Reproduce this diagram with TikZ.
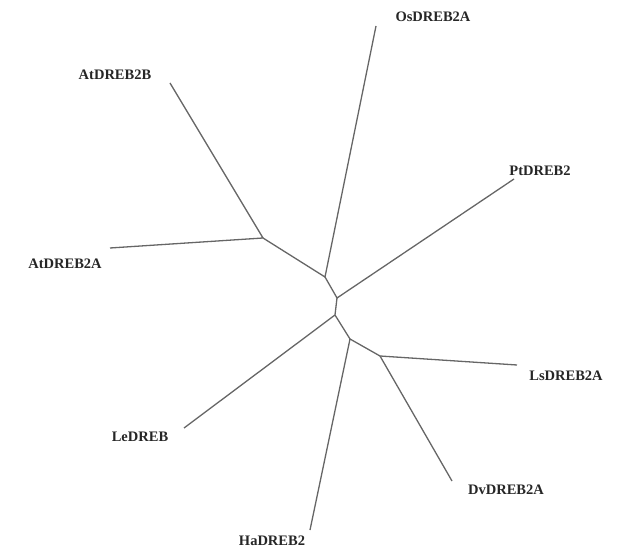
\documentclass[tikz,border=0pt]{standalone}
\usepackage{fontspec}
\setmainfont{Liberation Serif}
\begin{document}
\begin{tikzpicture}[x=1pt,y=-1pt,
  branch/.style={draw=black!60, line width=1.3pt},
  leaf/.style={font=\fontsize{14.5}{16}\selectfont\bfseries, text=black!85, inner sep=0pt}]
\useasboundingbox (0,0) rectangle (619,548);
% internal nodes
\coordinate (nAt) at (263,238);
\coordinate (nOs) at (325,277);
\coordinate (nPt) at (337,298);
\coordinate (nLe) at (335,315);
\coordinate (nHa) at (350,339);
\coordinate (nLs) at (380,356);
% leaf ends
\coordinate (eAtB) at (170,83);
\coordinate (eAtA) at (110,248);
\coordinate (eOs) at (376,26);
\coordinate (ePt) at (514,179);
\coordinate (eLs) at (517,365);
\coordinate (eDv) at (452,481);
\coordinate (eHa) at (310,530);
\coordinate (eLe) at (184,428);
% labels
\node[leaf] (lOs) at (433,17) {OsDREB2A};
\node[leaf] (lAtB) at (115,75) {AtDREB2B};
\node[leaf] (lAtA) at (65,264) {AtDREB2A};
\node[leaf] (lPt) at (540,171) {PtDREB2};
\node[leaf] (lLs) at (566,376) {LsDREB2A};
\node[leaf] (lLe) at (140,437) {LeDREB};
\node[leaf] (lDv) at (506,490) {DvDREB2A};
\node[leaf] (lHa) at (272,541) {HaDREB2};
% branches
\draw[branch] (eAtB) -- (nAt) -- (eAtA);
\draw[branch] (nAt) -- (nOs) -- (eOs);
\draw[branch] (nOs) -- (nPt) -- (ePt);
\draw[branch] (nPt) -- (nLe) -- (eLe);
\draw[branch] (nLe) -- (nHa) -- (eHa);
\draw[branch] (nHa) -- (nLs) -- (eLs);
\draw[branch] (nLs) -- (eDv);
\end{tikzpicture}
\end{document}
